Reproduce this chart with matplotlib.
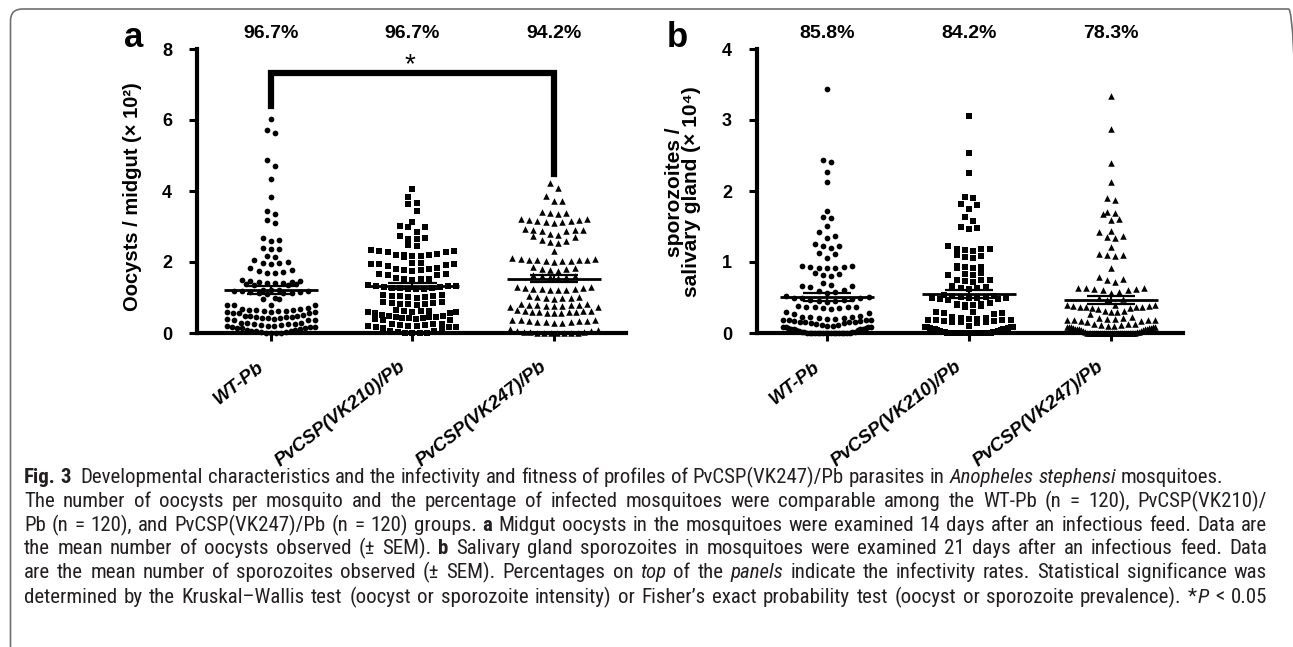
import numpy as np
import matplotlib
matplotlib.use("Agg")
import matplotlib.pyplot as plt
from matplotlib import font_manager
from matplotlib.patches import FancyBboxPatch
from matplotlib.transforms import ScaledTranslation

# groups and infectivity rates
groups = ["WT-Pb", "PvCSP(VK210)/Pb", "PvCSP(VK247)/Pb"]
markers = ["o", "s", "^"]
oocyst_pct = ["96.7%", "96.7%", "94.2%"]
sporo_pct = ["85.8%", "84.2%", "78.3%"]

# oocysts / midgut (x 10^2)
oocyst_wt = [6.02, 5.72, 5.62, 4.87, 4.71, 4.33, 3.84, 3.44, 3.34, 3.18, 3.09,
             2.69, 2.62, 2.60, 2.40, 2.38, 2.36,
             2.18, 2.15, 2.05, 2.00, 1.98, 1.96, 1.95,
             1.82, 1.78, 1.75, 1.72, 1.70, 1.68,
             1.49, 1.47, 1.46, 1.45, 1.43, 1.42, 1.41, 1.40, 1.38, 1.37, 1.36, 1.35,
             1.22, 1.21, 1.20, 1.19, 1.18, 1.17, 1.16, 1.15, 1.14, 1.13, 1.12, 1.10,
             1.00, 0.97, 0.95, 0.80, 0.79, 0.78, 0.78,
             0.70, 0.68, 0.67, 0.66, 0.65, 0.64, 0.63, 0.62, 0.61, 0.60, 0.59, 0.58, 0.57, 0.56, 0.55,
             0.50, 0.49, 0.48, 0.47, 0.46, 0.45, 0.44, 0.43, 0.42, 0.41, 0.40, 0.39, 0.38, 0.37, 0.36,
             0.29, 0.28, 0.27, 0.26, 0.25, 0.24, 0.23, 0.22, 0.21, 0.20, 0.19, 0.18, 0.17, 0.16, 0.15, 0.14, 0.13,
             0.10, 0.09, 0.08, 0.07, 0.06, 0.05, 0.04, 0.03,
             0, 0, 0, 0]
oocyst_vk210 = [4.07, 3.84, 3.65, 3.63, 3.45, 3.14, 3.02, 3.00, 2.98, 2.85,
                2.72, 2.68, 2.66, 2.65, 2.47, 2.45,
                2.35, 2.32, 2.30, 2.28, 2.27,
                2.22, 2.21, 2.20, 2.19, 2.18, 2.16, 2.15,
                1.98, 1.96, 1.95, 1.94, 1.93, 1.92, 1.90,
                1.82, 1.80, 1.79, 1.78, 1.77, 1.76,
                1.66, 1.65, 1.64, 1.62,
                1.55, 1.53, 1.52, 1.51, 1.50,
                1.34, 1.33, 1.32, 1.31, 1.30, 1.29, 1.28, 1.27, 1.26, 1.25, 1.24, 1.23,
                1.07, 1.06, 1.05, 1.04, 1.03, 1.02, 1.01, 1.00,
                0.87, 0.86, 0.85, 0.84, 0.83, 0.82, 0.81, 0.80,
                0.64, 0.63, 0.62, 0.61, 0.60, 0.59, 0.58, 0.57, 0.56,
                0.50, 0.48, 0.47, 0.46, 0.45, 0.44, 0.43, 0.42, 0.41, 0.40, 0.39, 0.38, 0.36,
                0.26, 0.25, 0.24, 0.23, 0.22, 0.21, 0.20, 0.19, 0.18, 0.17, 0.16, 0.14,
                0.09, 0.07, 0.05, 0.04,
                0, 0, 0, 0]
oocyst_vk247 = [4.22, 4.09, 3.87, 3.73, 3.72,
                3.40, 3.38, 3.37, 3.35,
                3.22, 3.20, 3.19, 3.18, 3.16, 3.15, 3.14, 3.12, 3.10,
                2.93, 2.91, 2.90, 2.89, 2.88, 2.86,
                2.78, 2.75, 2.73, 2.70,
                2.62, 2.58, 2.56, 2.54,
                2.32,
                2.10, 2.09, 2.08, 2.07, 2.06, 2.06, 2.05, 2.04, 2.03, 2.02, 2.01,
                1.85, 1.82, 1.80, 1.79, 1.78, 1.76,
                1.62, 1.61, 1.60, 1.58, 1.57, 1.55,
                1.30, 1.29, 1.27, 1.26, 1.25, 1.24, 1.23, 1.22, 1.21, 1.20,
                1.03, 1.02, 1.01, 1.00, 0.99, 0.98, 0.97,
                0.82, 0.81, 0.80, 0.79, 0.78, 0.78, 0.77, 0.76, 0.75, 0.74, 0.73,
                0.64, 0.63, 0.62, 0.61, 0.60, 0.60, 0.59, 0.58, 0.57, 0.56, 0.55,
                0.38, 0.37, 0.36, 0.35, 0.34, 0.33, 0.32, 0.31, 0.30, 0.29, 0.28,
                0.10, 0.08, 0.07, 0.05, 0.04, 0.03, 0.02,
                0, 0, 0, 0, 0, 0, 0]

# sporozoites / salivary gland (x 10^4)
sporo_wt = [3.44, 2.43, 2.41, 2.27, 2.12, 1.72, 1.64, 1.62, 1.51, 1.42,
            1.36, 1.34, 1.25, 1.23, 1.22, 1.20, 1.13, 1.11, 1.05,
            0.94, 0.94, 0.93, 0.93, 0.92, 0.92, 0.91,
            0.84, 0.83, 0.82, 0.80, 0.71,
            0.67, 0.66, 0.66, 0.65, 0.60, 0.59, 0.58, 0.57,
            0.52, 0.51, 0.50, 0.50, 0.49, 0.48, 0.47, 0.46, 0.45, 0.45, 0.44,
            0.38, 0.37, 0.37, 0.36, 0.36, 0.35, 0.35, 0.34, 0.29, 0.28, 0.27,
            0.24, 0.23, 0.22, 0.22, 0.21, 0.21, 0.20, 0.20, 0.19, 0.19,
            0.18, 0.18, 0.17, 0.17, 0.16, 0.16, 0.15, 0.15, 0.14, 0.14,
            0.12, 0.11, 0.11, 0.10, 0.10, 0.09, 0.09, 0.08, 0.08, 0.07, 0.07,
            0.06, 0.06, 0.05, 0.05, 0.04, 0.04, 0.03, 0.02, 0.01, 0.01, 0.01,
            0, 0, 0, 0, 0, 0, 0, 0, 0, 0, 0, 0, 0, 0, 0, 0, 0]
sporo_vk210 = [3.05, 2.54, 2.26, 1.92, 1.90, 1.81, 1.80, 1.75, 1.64, 1.58, 1.49, 1.48, 1.47, 1.23,
               1.19, 1.18, 1.18, 1.17, 1.16, 1.10, 1.08, 1.07, 1.05,
               0.94, 0.93, 0.93, 0.92, 0.91, 0.84, 0.83, 0.82, 0.81,
               0.75, 0.74, 0.74, 0.73, 0.72, 0.66, 0.65, 0.64, 0.63, 0.62,
               0.53, 0.52, 0.52, 0.51, 0.51, 0.50, 0.50, 0.49, 0.49, 0.48, 0.48, 0.47,
               0.42, 0.41, 0.41, 0.40, 0.40, 0.39, 0.38, 0.37,
               0.30, 0.29, 0.28, 0.28, 0.27,
               0.22, 0.21, 0.21, 0.20, 0.20, 0.19, 0.19, 0.18, 0.18, 0.17, 0.17, 0.16, 0.16, 0.15, 0.14,
               0.10, 0.09, 0.09, 0.08, 0.08, 0.07, 0.07, 0.06, 0.06, 0.05, 0.05, 0.04, 0.04, 0.03, 0.03,
               0.02, 0.02, 0.01, 0.01,
               0, 0, 0, 0, 0, 0, 0, 0, 0, 0, 0, 0, 0, 0, 0, 0, 0, 0, 0]
sporo_vk247 = [3.34, 2.87, 2.40, 2.12, 1.90, 1.88, 1.70, 1.69, 1.68, 1.61, 1.59,
               1.44, 1.42, 1.36, 1.35, 1.34, 1.21, 1.11, 1.10, 1.10, 1.09,
               0.91, 0.79, 0.76, 0.74, 0.72,
               0.64, 0.63, 0.63, 0.62, 0.62, 0.61, 0.61, 0.58, 0.57,
               0.49, 0.48, 0.47,
               0.40, 0.39, 0.39, 0.38, 0.38, 0.37, 0.37, 0.36, 0.36, 0.35, 0.35, 0.34,
               0.31, 0.31, 0.30, 0.30, 0.27,
               0.22, 0.21, 0.21, 0.20, 0.20, 0.19, 0.19, 0.18, 0.18, 0.17, 0.17, 0.16,
               0.13, 0.12, 0.12, 0.11, 0.11, 0.10, 0.10, 0.09, 0.09, 0.09, 0.08, 0.08,
               0.07, 0.07, 0.07, 0.06, 0.06, 0.05, 0.05, 0.05, 0.04, 0.04, 0.03, 0.03,
               0.02, 0.02, 0.01,
               0, 0, 0, 0, 0, 0, 0, 0, 0, 0, 0, 0, 0, 0, 0, 0, 0, 0, 0, 0, 0, 0, 0, 0, 0, 0]

oocysts = [oocyst_wt, oocyst_vk210, oocyst_vk247]
sporozoites = [sporo_wt, sporo_vk210, sporo_vk247]

plt.rcParams["font.family"] = ["Liberation Sans", "DejaVu Sans"]

W, H = 1293, 647
fig = plt.figure(figsize=(W / 100, H / 100), dpi=100)


def axes_px(left, top, right, bottom):
    return fig.add_axes([left / W, 1 - bottom / H, (right - left) / W, (bottom - top) / H])


def style_axes(ax, ymax, yticks, xlim):
    ax.set_xlim(*xlim)
    ax.set_ylim(0, ymax)
    for s in ["top", "right"]:
        ax.spines[s].set_visible(False)
    for s in ["left", "bottom"]:
        ax.spines[s].set_linewidth(3)
        ax.spines[s].set_capstyle("projecting")
    ax.set_yticks(yticks)
    ax.set_xticks(range(len(groups)))
    ax.set_xticklabels(groups, rotation=38, ha="right", va="center",
                       rotation_mode="anchor", fontsize=13.5,
                       fontweight="bold", fontstyle="italic")
    ax.tick_params(axis="both", width=2.2, length=6)
    ax.tick_params(axis="y", pad=12, labelsize=13)
    ax.tick_params(axis="x", pad=17)
    for t in ax.get_yticklabels():
        t.set_fontweight("bold")
    shift = ScaledTranslation(-9 / 100, 0, fig.dpi_scale_trans)
    for t in ax.get_xticklabels():
        t.set_transform(t.get_transform() + shift)


def swarm(ax, xc, vals, marker, size, row_px=7.0, gap_px=8.3, half_px=44.0):
    # Prism-like rows: close values share a row, smallest in the middle
    vals = np.asarray(vals, dtype=float)
    disp = ax.transData.transform(np.column_stack([np.full(len(vals), xc), vals]))
    ys = disp[:, 1]
    x0 = disp[0, 0]
    rows = []
    for i in np.argsort(vals, kind="stable"):
        if not rows or ys[i] - ys[rows[-1][0]] >= row_px:
            rows.append([i])
        else:
            rows[-1].append(i)
    offs = np.zeros(len(vals))
    for idx in rows:
        n = len(idx)
        if n == 1:
            continue
        sp = min(gap_px, 2 * half_px / (n - 1))
        pos = (np.arange(n) - (n - 1) / 2) * sp
        order = np.argsort(np.abs(pos) - 1e-6 * (pos > 0), kind="stable")
        for j, k in zip(idx, order):
            offs[j] = pos[k]
    xs = ax.transData.inverted().transform(np.column_stack([x0 + offs, ys]))[:, 0]
    ax.scatter(xs, vals, marker=marker, s=size, color="black", linewidths=0,
               clip_on=False, zorder=3)
    m = vals.mean()
    sem = vals.std(ddof=1) / np.sqrt(len(vals))
    ax.hlines(m, xc - 0.33, xc + 0.33, color="black", lw=2, zorder=4)
    ax.hlines([m - sem, m + sem], xc - 0.17, xc + 0.17, color="black", lw=1.6, zorder=4)
    ax.vlines(xc, m - sem, m + sem, color="black", lw=1.6, zorder=4)


sizes = {"o": 17, "s": 18, "^": 22}

# panel a
axA = axes_px(197, 49, 626, 333)
style_axes(axA, 8, [0, 2, 4, 6, 8], (-0.523, 2.509))
for i, vals in enumerate(oocysts):
    swarm(axA, i, vals, markers[i], sizes[markers[i]])
    axA.text(i, 1.056, oocyst_pct[i], transform=axA.get_xaxis_transform(),
             ha="center", va="center", fontsize=14, fontweight="bold")
axA.plot([0, 0, 2, 2], [6.4, 7.32, 7.32, 4.48], color="black", lw=4.5,
         solid_joinstyle="miter", clip_on=False, zorder=5)
axA.text(0.98, 7.55, "*", ha="center", va="center", fontsize=20)

# panel b
axB = axes_px(757, 49, 1183, 333)
style_axes(axB, 4, [0, 1, 2, 3, 4], (-0.493, 2.507))
for i, vals in enumerate(sporozoites):
    swarm(axB, i, vals, markers[i], sizes[markers[i]])
    axB.text(i, 1.056, sporo_pct[i], transform=axB.get_xaxis_transform(),
             ha="center", va="center", fontsize=14, fontweight="bold")

fig.text(133 / W, 1 - 197 / H, "Oocysts / midgut (\u00d7 10\u00b2)", rotation=90,
         ha="center", va="center", fontsize=14.5, fontweight="bold")
fig.text(683 / W, 1 - 192 / H, "sporozoites /\nsalivary gland (\u00d7 10\u2074)", rotation=90,
         ha="center", va="center", multialignment="center", fontsize=15,
         fontweight="bold", linespacing=0.92)
fig.text(134 / W, 1 - 47 / H, "a", ha="center", va="baseline", fontsize=25, fontweight="bold")
fig.text(677 / W, 1 - 47 / H, "b", ha="center", va="baseline", fontsize=25, fontweight="bold")

# frame around the figure
frame = FancyBboxPatch((0.105, -0.3), 12.9, 6.68, boxstyle="round,pad=0,rounding_size=0.12",
                       transform=fig.dpi_scale_trans, facecolor="none",
                       edgecolor="#707070", lw=1.2)
fig.add_artist(frame)

# caption font: a narrow face if one is installed
cap_family, cap_stretch = "Liberation Sans", "normal"
narrow_kw = ("condensed", "semi-condensed", "extra-condensed", "ultra-condensed")
found = [f for f in font_manager.fontManager.ttflist
         if "Narrow" in f.name or "Condensed" in f.name or str(f.stretch) in narrow_kw]
for pref in ["Liberation Sans Narrow", "Noto Sans", "Roboto", "Open Sans", "DejaVu Sans"]:
    hit = [f for f in found if f.name.startswith(pref)]
    if hit:
        cap_family = hit[0].name
        cap_stretch = "normal" if ("Narrow" in cap_family or "Condensed" in cap_family) else str(hit[0].stretch)
        break

styles = {"n": {}, "b": {"fontweight": "bold"}, "i": {"fontstyle": "italic"}}
caption = [
    [("b", "Fig. 3"), ("n", "  Developmental characteristics and the infectivity and fitness of profiles of "
                             "PvCSP(VK247)/Pb parasites in "), ("i", "Anopheles stephensi"), ("n", " mosquitoes.")],
    [("n", "The number of oocysts per mosquito and the percentage of infected mosquitoes were comparable "
           "among the WT-Pb (n = 120), PvCSP(VK210)/")],
    [("n", "Pb (n = 120), and PvCSP(VK247)/Pb (n = 120) groups. "), ("b", "a"),
     ("n", " Midgut oocysts in the mosquitoes were examined 14 days after an infectious feed. Data are")],
    [("n", "the mean number of oocysts observed (\u00b1 SEM). "), ("b", "b"),
     ("n", " Salivary gland sporozoites in mosquitoes were examined 21 days after an infectious feed. Data")],
    [("n", "are the mean number of sporozoites observed (\u00b1 SEM). Percentages on "), ("i", "top"),
     ("n", " of the "), ("i", "panels"),
     ("n", " indicate the infectivity rates. Statistical significance was")],
    [("n", "determined by the Kruskal\u2013Wallis test (oocyst or sporozoite intensity) or Fisher\u2019s exact "
           "probability test (oocyst or sporozoite prevalence). *"), ("i", "P"), ("n", " < 0.05")],
]
justify = [False, True, True, True, True, True]
baselines = [483, 507, 531, 554, 578, 603]
cap_left, cap_right = 24, 1267

renderer = fig.canvas.get_renderer()


def cap_text(x, y, txt, st, size):
    return fig.text(x, y, txt, fontsize=size, family=[cap_family, "DejaVu Sans"],
                    fontstretch=cap_stretch, color="#231f20", ha="left",
                    va="baseline", **styles[st])


def width_of(txt, st, size):
    if txt == "":
        return 0.0
    t = cap_text(0, 0, txt, st, size)
    w = t.get_window_extent(renderer).width
    t.remove()
    return w


def split_words(line):
    words = [[]]
    for st, txt in line:
        parts = txt.split(" ")
        for j, p in enumerate(parts):
            if j > 0:
                words.append([])
            if p:
                words[-1].append((st, p))
    return words


def line_widths(words, size):
    return [[width_of(p, st, size) for st, p in w] for w in words]


def space_width(size):
    return width_of("a a", "n", size) - width_of("aa", "n", size)


words_all = [split_words(l) for l in caption]
w0 = line_widths(words_all[0], 10)
nat0 = sum(sum(w) for w in w0) + space_width(10) * (len(w0) - 1)
cap_size = 10 * (1218 - cap_left) / nat0
sp = space_width(cap_size)

for words, just, base in zip(words_all, justify, baselines):
    ws = line_widths(words, cap_size)
    total = sum(sum(w) for w in ws)
    gap = (cap_right - cap_left - total) / (len(words) - 1) if just else sp
    x = cap_left
    for word, wlist in zip(words, ws):
        for (st, p), pw in zip(word, wlist):
            cap_text(x / W, 1 - base / H, p, st, cap_size)
            x += pw
        x += gap

fig.savefig("out.png", dpi=100)
